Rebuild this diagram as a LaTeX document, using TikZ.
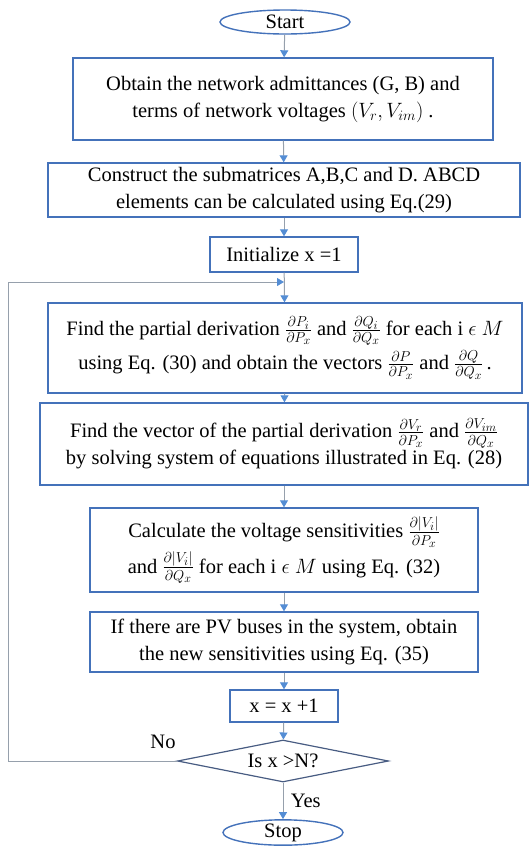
\documentclass[tikz,border=0pt]{standalone}
\usepackage{amsmath,amssymb}
\usepackage{fontspec}
\setmainfont{Liberation Serif}
\usepackage{xcolor}
\usetikzlibrary{positioning,arrows.meta,shapes.geometric,calc}

\definecolor{boxblue}{RGB}{68,114,186}
\definecolor{tipblue}{RGB}{84,141,212}
\definecolor{linegray}{RGB}{150,160,172}
\definecolor{diamblue}{RGB}{72,92,130}

\DeclareMathSizes{20.5}{20.5}{15.5}{12}
\newcommand{\pdv}[2]{\frac{\partial #1}{\partial #2}}

\begin{document}
\begin{tikzpicture}[
  x=1pt, y=-1pt,
  font=\fontsize{20.5}{27}\selectfont,
  >={Triangle[length=7pt,width=8pt,color=tipblue]},
  box/.style   ={rectangle, draw=boxblue, line width=1.4pt, align=center, inner sep=2pt},
  term/.style  ={ellipse, draw=boxblue, line width=1.4pt, inner sep=0pt},
  test/.style  ={diamond, draw=diamblue, line width=1.2pt, aspect=5, inner sep=0pt,
                 minimum width=211pt, minimum height=42pt},
  arr/.style   ={->, draw=linegray, line width=1pt},
  back/.style  ={draw=linegray, line width=1pt},
]

\useasboundingbox (0,0) rectangle (531,847);

\def\xC{284}
\def\xL{8}

% ---------- main column ----------
\node[term, minimum width=130pt, minimum height=24pt] (start) at (285,22) {Start};
\node[box, minimum width=420pt, minimum height=82pt] (net) at (283,99)
  {Obtain the network admittances (G, B) and\\ terms of network voltages $(V_r, V_{im})$ .};
\node[box, minimum width=472pt, minimum height=54pt] (sub) at (\xC,190)
  {Construct the submatrices A,B,C and D. ABCD\\ elements can be calculated using Eq.(29)};
\node[box, minimum width=148pt, minimum height=35pt] (init) at (\xC,254.5) {Initialize x =1};
\coordinate (join) at (\xC,282);
\node[box, minimum width=474pt, minimum height=90pt] (part) at (285,348)
  {Find the partial derivation $\pdv{P_i}{P_x}$ and $\pdv{Q_i}{Q_x}$ for each i $\epsilon$ $M$\\[4pt]
   using Eq. (30) and obtain the vectors $\pdv{P}{P_x}$ and $\pdv{Q}{Q_x}$\,.};
\node[box, minimum width=488pt, minimum height=82pt] (vec) at (\xC,444)
  {Find the vector of the partial derivation $\pdv{V_r}{P_x}$ and $\pdv{V_{im}}{Q_x}$\\
   by solving system of equations illustrated in Eq. (28)};
\node[box, minimum width=388pt, minimum height=84pt] (sens) at (\xC,550)
  {Calculate the voltage sensitivities $\pdv{|V_i|}{P_x}$\\[4pt]
   and $\pdv{|V_i|}{Q_x}$ for each i $\epsilon$ $M$ using Eq. (32)};
\node[box, minimum width=388pt, minimum height=60pt] (pv) at (\xC,642)
  {If there are PV buses in the system, obtain\\ the new sensitivities using Eq. (35)};
\node[box, minimum width=108pt, minimum height=32pt] (incr) at (\xC,706) {x = x +1};
\node[test] (check) at (283,761) {Is x >N?};
\node[term, minimum width=120pt, minimum height=25pt] (stop) at (283,832.5) {Stop};

% ---------- arrows ----------
\draw[arr] (start) -- (net);
\draw[arr] (net) -- (sub);
\draw[arr] (sub) -- (init);
\draw[arr] (init) -- (part);
\draw[arr] (part) -- (vec);
\draw[arr] (vec) -- (sens);
\draw[arr] (sens) -- (pv);
\draw[arr] (pv) -- (incr);
\draw[arr] (incr) -- (check);
\draw[arr] (check) -- node[right=4pt, text=black] {Yes} (stop);

% ---------- loop back ----------
\draw[back] (check.west) -| (\xL,282);
\draw[arr] (\xL,282) -- (join);
\node (no) at (163,742) {No};

\end{tikzpicture}
\end{document}
